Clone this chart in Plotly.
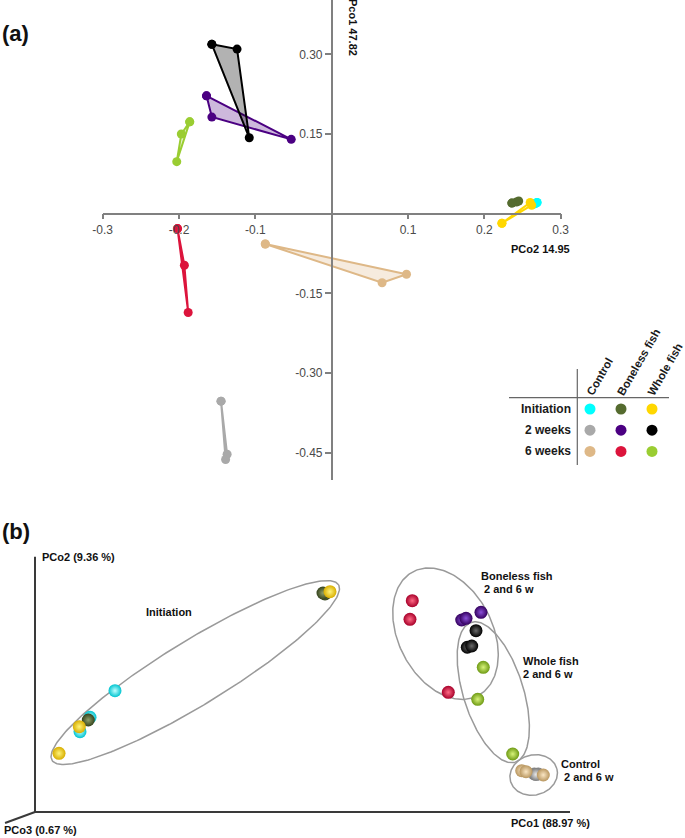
import numpy as np
import plotly.graph_objects as go

W, H = 685, 838
FONT = "Liberation Sans, Arial, sans-serif"

groups = ["Control", "Boneless fish", "Whole fish"]
times = ["Initiation", "2 weeks", "6 weeks"]
colors = [["#00FFFF", "#556B2F", "#FFD700"],
          ["#A9A9A9", "#4B0082", "#000000"],
          ["#DEB887", "#DC143C", "#9ACD32"]]
fills = [["rgba(0,255,255,0.2)", "rgba(85,107,47,0.2)", "rgba(255,215,0,0.25)"],
         ["rgba(169,169,169,0.25)", "rgba(75,0,130,0.28)", "rgba(0,0,0,0.3)"],
         ["rgba(222,184,135,0.28)", "rgba(220,20,60,0.2)", "rgba(154,205,50,0.25)"]]

# (a) PCo2 (x) / Pco1 (y), per time point: [control, boneless, whole]
a_x_init = [[0.269, 0.267, 0.265], [0.236, 0.242, 0.245], [0.223, 0.260, 0.262]]
a_y_init = [[0.021, 0.019, 0.018], [0.020, 0.022, 0.024], [-0.018, 0.021, 0.016]]
a_x_2w = [[-0.145, -0.137, -0.139], [-0.164, -0.157, -0.053], [-0.157, -0.124, -0.108]]
a_y_2w = [[-0.353, -0.453, -0.463], [0.222, 0.182, 0.140], [0.319, 0.310, 0.143]]
a_x_6w = [[-0.087, 0.066, 0.098], [-0.202, -0.193, -0.188], [-0.186, -0.197, -0.203]]
a_y_6w = [[-0.057, -0.130, -0.114], [-0.028, -0.097, -0.186], [0.173, 0.150, 0.098]]

a_xticks = [-0.3, -0.2, -0.1, 0.1, 0.2, 0.3]
a_yticks = [0.30, 0.15, -0.15, -0.30, -0.45]

# (b) 3D PCoA projected onto the PCo1 / PCo2 plane
b_x_init = [[8.41, 10.28, 14.95], [9.96, 54.21, 53.83], [4.49, 8.28, 55.14]]
b_y_init = [[15.01, 17.70, 22.67], [17.20, 40.75, 40.93], [10.97, 15.94, 41.18]]
b_x_2w = [[93.33, 94.07, 93.64], [79.76, 80.56, 83.36], [82.43, 80.80, 81.63]]
b_y_2w = [[7.10, 7.10, 7.01], [35.89, 36.21, 37.33], [33.89, 30.79, 31.03]]
b_x_6w = [[90.97, 91.78, 95.01], [70.52, 70.09, 77.25], [83.79, 82.75, 89.29]]
b_y_6w = [[7.72, 7.53, 6.92], [39.50, 36.02, 22.37], [27.05, 21.07, 10.84]]

# cluster ellipses: centre, semi axes, angle
ell_cx = [29.96, 76.73, 85.66, 93.21]
ell_cy = [26.07, 33.33, 22.39, 6.92]
ell_a = [31.4, 13.08, 13.70, 4.49]
ell_b = [6.0, 8.79, 5.61, 3.74]
ell_ang = [31.5, -62.5, -72.5, 15]

sphere_light = [["#C0FFFF", "#8FA06A", "#FFF47A"],
                ["#EAEAEA", "#8A50D8", "#6A6A6A"],
                ["#FAE6C4", "#FF6A85", "#D8F47A"]]
sphere_dark = [["#00C4D0", "#34421C", "#D8AE00"],
               ["#7A7A7A", "#34005E", "#000000"],
               ["#B8965F", "#A8002A", "#6E9A14"]]

fig = go.Figure()

# ---------- panel (a)
for ti, (xs, ys) in enumerate([(a_x_init, a_y_init), (a_x_2w, a_y_2w), (a_x_6w, a_y_6w)]):
    for gi in range(3):
        x = xs[gi] + [xs[gi][0]]
        y = ys[gi] + [ys[gi][0]]
        fig.add_trace(go.Scatter(
            x=x, y=y, mode="lines+markers", fill="toself",
            fillcolor=fills[ti][gi],
            line=dict(color=colors[ti][gi], width=2),
            marker=dict(color=colors[ti][gi], size=9),
            xaxis="x", yaxis="y", showlegend=False, hoverinfo="skip"))

# ---------- panel (b)
t = np.linspace(0, 2 * np.pi, 240)
for cx, cy, ea, eb, ang in zip(ell_cx, ell_cy, ell_a, ell_b, ell_ang):
    th = np.radians(ang)
    ex = cx + ea * np.cos(t) * np.cos(th) - eb * np.sin(t) * np.sin(th)
    ey = cy + ea * np.cos(t) * np.sin(th) + eb * np.sin(t) * np.cos(th)
    fig.add_trace(go.Scatter(x=ex, y=ey, mode="lines",
                             line=dict(color="#9a9a9a", width=1.5),
                             xaxis="x2", yaxis="y2", showlegend=False, hoverinfo="skip"))

# axes of the 3D view
axis_len = [100, 47.7]
fig.add_trace(go.Scatter(x=[0, axis_len[0]], y=[0, 0], mode="lines",
                         line=dict(color="#3a3a3a", width=2),
                         xaxis="x2", yaxis="y2", showlegend=False, hoverinfo="skip"))
fig.add_trace(go.Scatter(x=[0, 0], y=[0, axis_len[1]], mode="lines",
                         line=dict(color="#3a3a3a", width=2),
                         xaxis="x2", yaxis="y2", showlegend=False, hoverinfo="skip"))
fig.add_trace(go.Scatter(x=[0, -5.6], y=[0, -2.06], mode="lines",
                         line=dict(color="#3a3a3a", width=2),
                         xaxis="x2", yaxis="y2", showlegend=False, hoverinfo="skip"))

# plotly's radial gradient puts gradient.color in the centre
for ti, (xs, ys) in enumerate([(b_x_init, b_y_init), (b_x_2w, b_y_2w), (b_x_6w, b_y_6w)]):
    for gi in range(3):
        fig.add_trace(go.Scatter(
            x=xs[gi], y=ys[gi], mode="markers",
            marker=dict(size=13, color=sphere_dark[ti][gi],
                        gradient=dict(type="radial", color=sphere_light[ti][gi]),
                        line=dict(width=0)),
            xaxis="x2", yaxis="y2", showlegend=False, hoverinfo="skip"))

# ---------- legend table (pixel overlay)
col_x0, col_dx = 590, 31
row_y0, row_dy = 409, 21.2
for ti in range(3):
    fig.add_trace(go.Scatter(
        x=[col_x0 + gi * col_dx for gi in range(3)],
        y=[row_y0 + ti * row_dy] * 3, mode="markers",
        marker=dict(size=11, color=colors[ti]),
        xaxis="x3", yaxis="y3", showlegend=False, hoverinfo="skip"))

ann = []
for ti, name in enumerate(times):
    ann.append(dict(x=573, y=row_y0 + ti * row_dy, text="<b>%s</b>" % name,
                    xanchor="right", yanchor="middle", font=dict(size=12, color="#1a1a1a")))
for gi, name in enumerate(groups):
    ann.append(dict(x=col_x0 - 9 + gi * col_dx, y=400, text="<b>%s</b>" % name,
                    textangle=-60, xanchor="left", yanchor="bottom",
                    font=dict(size=11.5, color="#1a1a1a")))

ann += [
    dict(x=0, y=33, text="<b>(a)</b>", xanchor="left", font=dict(size=22, color="#111")),
    dict(x=0, y=531, text="<b>(b)</b>", xanchor="left", font=dict(size=22, color="#111")),
    dict(x=353, y=27, text="<b>Pco1 47.82</b>", textangle=90, font=dict(size=11, color="#111")),
    dict(x=540, y=249, text="<b>PCo2 14.95</b>", font=dict(size=11, color="#111")),
    dict(x=40, y=557, text="<b>PCo2 (9.36 %)</b>", xanchor="left", font=dict(size=11, color="#111")),
    dict(x=2, y=830, text="<b>PCo3 (0.67 %)</b>", xanchor="left", font=dict(size=11, color="#111")),
    dict(x=509, y=823, text="<b>PCo1 (88.97 %)</b>", xanchor="left", font=dict(size=11, color="#111")),
    dict(x=169, y=612, text="<b>Initiation</b>", font=dict(size=11, color="#111")),
    dict(x=479, y=576, text="<b>Boneless fish</b>", xanchor="left", font=dict(size=11, color="#111")),
    dict(x=479, y=588.5, text="<b> 2 and 6 w</b>", xanchor="left", font=dict(size=11, color="#111")),
    dict(x=521, y=661, text="<b>Whole fish</b>", xanchor="left", font=dict(size=11, color="#111")),
    dict(x=521, y=674, text="<b>2 and 6 w</b>", xanchor="left", font=dict(size=11, color="#111")),
    dict(x=559, y=764, text="<b>Control</b>", xanchor="left", font=dict(size=11, color="#111")),
    dict(x=559, y=777, text="<b> 2 and 6 w</b>", xanchor="left", font=dict(size=11, color="#111")),
]
for a in ann:
    a.update(xref="x3", yref="y3", showarrow=False)

shapes = [
    dict(type="line", x0=509, x1=669, y0=397.7, y1=397.7),
    dict(type="line", x0=577.3, x1=577.3, y0=369, y1=465),
]
for s in shapes:
    s.update(xref="x3", yref="y3", line=dict(color="#666", width=1.2))

ax_col = "#808080"
fig.update_layout(
    width=W, height=H, margin=dict(l=0, r=0, t=0, b=0, pad=0, autoexpand=False),
    paper_bgcolor="white", plot_bgcolor="rgba(0,0,0,0)",
    font=dict(family=FONT),
    xaxis=dict(domain=[102.7 / W, 560.7 / W], range=[-0.3, 0.3], anchor="free",
               position=1 - 213.7 / H, showline=True, linecolor=ax_col, linewidth=1.5,
               ticks="outside", ticklen=5, tickcolor=ax_col, tickwidth=1.5,
               tickvals=a_xticks, ticktext=[("%.1f" % v) for v in a_xticks],
               tickfont=dict(size=12, color="#4a4a4a"),
               showgrid=False, zeroline=False, automargin=False),
    yaxis=dict(domain=[1 - 480 / H, 1], range=[-(480 - 213.7) / 531, 213.7 / 531],
               anchor="free", position=331.7 / W, showline=True, linecolor=ax_col,
               linewidth=1.5, ticks="outside", ticklen=6, tickcolor=ax_col, tickwidth=1.5,
               tickvals=a_yticks, ticktext=[("%.2f" % v) for v in a_yticks],
               tickfont=dict(size=12, color="#4a4a4a"),
               showgrid=False, zeroline=False, automargin=False),
    xaxis2=dict(domain=[0, 1], range=[-35 / 5.35, 650 / 5.35], anchor="y2", visible=False),
    yaxis2=dict(domain=[0, 298 / H], range=[-26 / 5.35, 272 / 5.35], anchor="x2", visible=False),
    xaxis3=dict(domain=[0, 1], range=[0, W], anchor="y3", visible=False),
    yaxis3=dict(domain=[0, 1], range=[H, 0], anchor="x3", visible=False),
    annotations=ann, shapes=shapes,
)

# the page body has a default 8px margin; drop it so the figure fills the window
fig.write_html("out.html", config={"displayModeBar": False},
               post_script="document.body.style.margin='0';")
